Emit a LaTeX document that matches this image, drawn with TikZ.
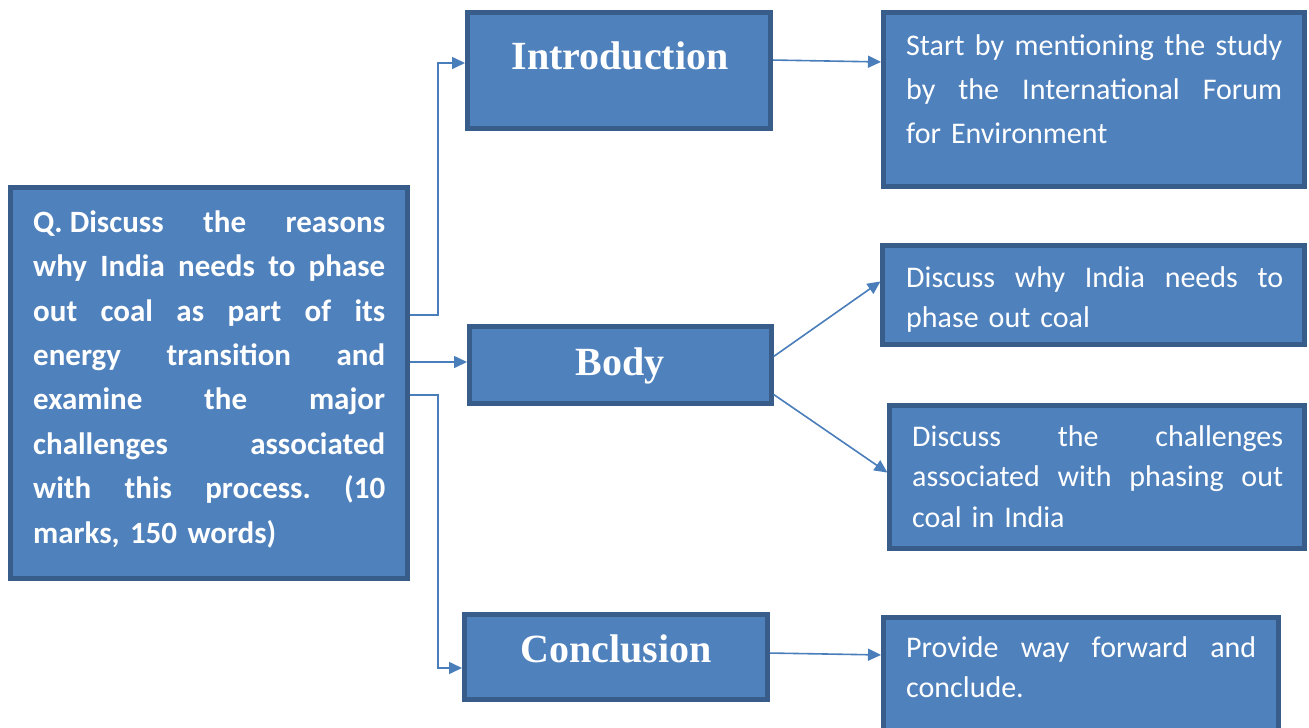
\documentclass[tikz,border=0pt]{standalone}
\usepackage{fontspec}
\setmainfont{Carlito}
\newfontfamily\headfont{Liberation Serif}
\usetikzlibrary{arrows.meta}
\definecolor{boxfill}{HTML}{4F81BD}
\definecolor{boxedge}{HTML}{385D8A}
\definecolor{linkblue}{HTML}{4A7EBB}
% one fully justified line of a given width: every space stretches equally
\newcommand\jline[2]{\leavevmode\hbox to #1{\frenchspacing\spaceskip=.23em plus 1fil\relax
  \xspaceskip=\spaceskip #2}}

\begin{document}
\begin{tikzpicture}[x=1pt,y=-1pt,
  panel/.style={draw=boxedge, fill=boxfill, line width=5pt, anchor=north west,
                inner sep=0pt, outer sep=0pt},
  heading/.style={text=white, font=\headfont\bfseries\fontsize{40}{48}\selectfont,
                  anchor=base, inner sep=0pt},
  bodytext/.style={text=white, anchor=north west, inner sep=0pt, align=left,
                   font=\fontsize{30}{40.5}\selectfont},
  conn/.style={draw=linkblue, line width=1.6pt, -{Triangle[length=13pt,width=12pt]},
               shorten >=2.5pt, shorten <=2.5pt}]
\useasboundingbox (0,0) rectangle (1309,728);

% panels
\node[panel, minimum width=397pt, minimum height=391pt] (q) at (10.5,187.5) {};
\node[panel, minimum width=303pt, minimum height=116pt] (intro) at (467.5,12.5) {};
\node[panel, minimum width=302pt, minimum height=77pt] (body) at (469.5,326.5) {};
\node[panel, minimum width=303pt, minimum height=85pt] (concl) at (464.5,614.5) {};
\node[panel, minimum width=421pt, minimum height=174pt] (itext) at (883.5,12.5) {};
\node[panel, minimum width=422pt, minimum height=99pt] (why) at (882.5,245.5) {};
\node[panel, minimum width=415pt, minimum height=143pt] (chal) at (889.5,405.5) {};
\node[panel, minimum width=395pt, minimum height=125pt] (prov) at (883.5,617.5) {};

% headings
\node[heading] (introlbl) at (620,69) {Introduction};
\node[heading] (bodylbl) at (620,375) {Body};
\node[heading] (concllbl) at (616,662) {Conclusion};

% question
\node[bodytext, text width=352pt, font=\bfseries\fontsize{31}{44.4}\selectfont]
  (qtext) at (33,208) {%
  \rule{0pt}{24pt}\jline{352pt}{\mbox{Q. Discuss} the reasons}\\
  \jline{352pt}{why India needs to phase}\\
  \jline{352pt}{out coal as part of its}\\
  \jline{352pt}{energy transition and}\\
  \jline{352pt}{examine the major}\\
  \jline{352pt}{challenges associated}\\
  \jline{352pt}{with this process. (10}\\
  marks, 150 words)};

% notes
\node[bodytext, text width=377pt, font=\fontsize{30}{44}\selectfont]
  (itextlbl) at (906,31) {%
  \rule{0pt}{24pt}\jline{376pt}{Start by mentioning the study}\\
  \jline{376pt}{by the International Forum}\\
  for Environment};
\node[bodytext, text width=377pt] (whylbl) at (906,263) {%
  \rule{0pt}{24pt}\jline{377pt}{Discuss why India needs to}\\
  phase out coal};
\node[bodytext, text width=371pt] (challbl) at (912,422) {%
  \rule{0pt}{24pt}\jline{371pt}{Discuss the challenges}\\
  \jline{371pt}{associated with phasing out}\\
  coal in India};
\node[bodytext, text width=350pt] (provlbl) at (906,633) {%
  \rule{0pt}{24pt}\jline{350pt}{Provide way forward and}\\
  conclude.};

% connectors
\draw[conn] (q.east |- 0,315) -- (438,315) |- (intro.west |- 0,63);
\draw[conn] (q.east |- 0,362) -- (body.west |- 0,362);
\draw[conn] (q.east |- 0,395) -- (438,395) |- (concl.west |- 0,668);
\draw[conn] (intro.east |- 0,60) -- (itext.west |- 0,62);
\draw[conn] (body.east |- 0,358) -- (why.west |- 0,280);
\draw[conn] (body.east |- 0,393) -- (chal.west |- 0,474);
\draw[conn] (concl.east |- 0,653) -- (prov.west |- 0,655);
\end{tikzpicture}
\end{document}
